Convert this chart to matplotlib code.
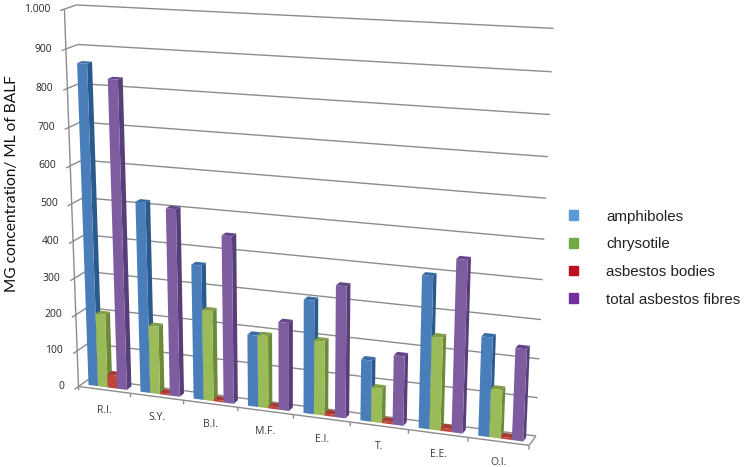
import numpy as np
import matplotlib
matplotlib.use('Agg')
import matplotlib.pyplot as plt
from matplotlib.patches import Patch
from mpl_toolkits.mplot3d.art3d import Line3DCollection

categories = ['R.I.', 'S.Y.', 'B.I.', 'M.F.', 'E.I.', 'T.', 'E.E.', 'O.I.']
amphiboles = [862, 515, 363, 193, 302, 162, 396, 257]
chrysotile = [202, 186, 245, 195, 198, 91, 243, 126]
asbestos_bodies = [37, 5, 5, 6, 6, 6, 8, 5]
total_fibres = [827, 505, 448, 236, 348, 183, 445, 237]
value_ticks = [0, 100, 200, 300, 400, 500, 600, 700, 800, 900, 1000]
value_labels = ['0', '100', '200', '300', '400', '500', '600', '700', '800', '900', '1.000']

series_names = ['amphiboles', 'chrysotile', 'asbestos bodies', 'total asbestos fibres']
legend_colors = ['#5b9bd5', '#6fac46', '#c00f1f', '#7030a0']
# front, side, top
bar_colors = [('#4a7ebb', '#2a5a8c', '#3a6ba3'),
              ('#9bbb59', '#6c8a38', '#7f9e45'),
              ('#c0443a', '#8f2b24', '#a63a32'),
              ('#7d5ca0', '#573e78', '#64478a')]

W, H = 745, 467
fig = plt.figure(figsize=(W / 100, H / 100), dpi=100)
# Axes3D always keeps a square box, so make it as wide as the figure
ax = fig.add_axes([0, (H - W) / 2 / H, 1, W / H], projection='3d', computed_zorder=False)
ax.set_axis_off()
ax.patch.set_visible(False)
ax.set_autoscale_on(False)

bar_w = 0.185
bar_d = 0.42
bar_start = 0.13
bar_y = 0.3
all_series = [amphiboles, chrysotile, asbestos_bodies, total_fibres]
z = 10
for i in range(len(categories)):
    for s, vals in enumerate(all_series):
        front, side, top = bar_colors[s]
        # hidden faces stay transparent, order is -z +z -y +y -x +x
        ax.bar3d([i + bar_start + s * bar_w], [bar_y], [0], bar_w, bar_d, vals[i],
                 color=['none', top, front, 'none', 'none', side],
                 shade=False, linewidth=0, zorder=z)
        z += 1

# gridlines: short bit on the left wall, long one along the back wall
segs = []
for v in value_ticks:
    segs.append([(0, -0.35, v), (0, 1, v)])
    segs.append([(0, 1, v), (8, 1, v)])
segs.append([(0, 0, 0), (0, 0, 1000)])
segs.append([(0, 0, 0), (8, 0, 0)])
segs.append([(8, 0, 0), (8, 1, 0)])
for i in range(len(categories) + 1):
    segs.append([(i, 0, 0), (i, 0, -11)])
ax.add_collection3d(Line3DCollection(segs, colors='#8c8c8c', linewidths=1, zorder=1))

# camera: fit a projection matrix to the corners of the box in the picture
corners = [(0, 0, 0), (8, 0, 0), (8, 1, 0), (0, 1, 0), (0, 0, 1000), (0, 1, 1000), (8, 1, 1000), (8, 1, 500)]
pixels = [(79, 386), (529, 446), (536, 435), (89, 379), (64, 9), (77, 5), (553, 28), (545, 240)]

ax.apply_aspect()
disp = np.array([(px, H - py) for px, py in pixels], dtype=float)
view = ax.transData.inverted().transform(disp)
rows = []
for (cx, cy, cz), (u, v) in zip(corners, view):
    p = [cx, cy, cz / 1000, 1]
    rows.append(p + [0, 0, 0, 0] + [-u * a for a in p])
    rows.append([0, 0, 0, 0] + p + [-v * a for a in p])
P = np.linalg.svd(np.array(rows))[2][-1].reshape(3, 4)
P[:, 2] /= 1000
if P[2, 3] < 0:
    P = -P
depth = np.array([-0.02, 0.1, 0, 0.5]) * np.abs(P[2]).max()
M = np.vstack([P[0], P[1], depth, P[2]])
ax.get_proj = lambda: M


def to_display(x, y, v):
    q = P @ np.array([x, y, v, 1.0])
    return ax.transData.transform((q[0] / q[2], q[1] / q[2]))


# tick labels are placed from the fitted camera, with a fixed gap in pixels
for v, lab in zip(value_ticks, value_labels):
    px, py = to_display(0, 0, v)
    fig.text((px - 14) / W, py / H, lab, ha='right', va='center', fontsize=7.5,
             family='Open Sans', color='#262626')
for i, c in enumerate(categories):
    px, py = to_display(i + 0.5, 0, 0)
    fig.text(px / W, (py - 21) / H, c, ha='center', va='center', fontsize=7.5,
             family='Open Sans', color='#3a3a3a')

fig.text(12 / W, 1 - 184 / H, 'MG concentration/ ML of BALF', rotation=90, ha='center',
         va='center', fontsize=11.2, family='Lato', color='#111111')

handles = [Patch(color=c, label=n) for c, n in zip(legend_colors, series_names)]
fig.legend(handles=handles, loc='upper left', bbox_to_anchor=(555 / W, 1 - 196 / H),
           frameon=False, prop={'family': 'Liberation Sans', 'size': 10.9},
           handlelength=0.62, handleheight=0.62, handletextpad=1.85,
           labelspacing=0.9, labelcolor='#222222')

fig.savefig('out.png', dpi=100, facecolor='white')
